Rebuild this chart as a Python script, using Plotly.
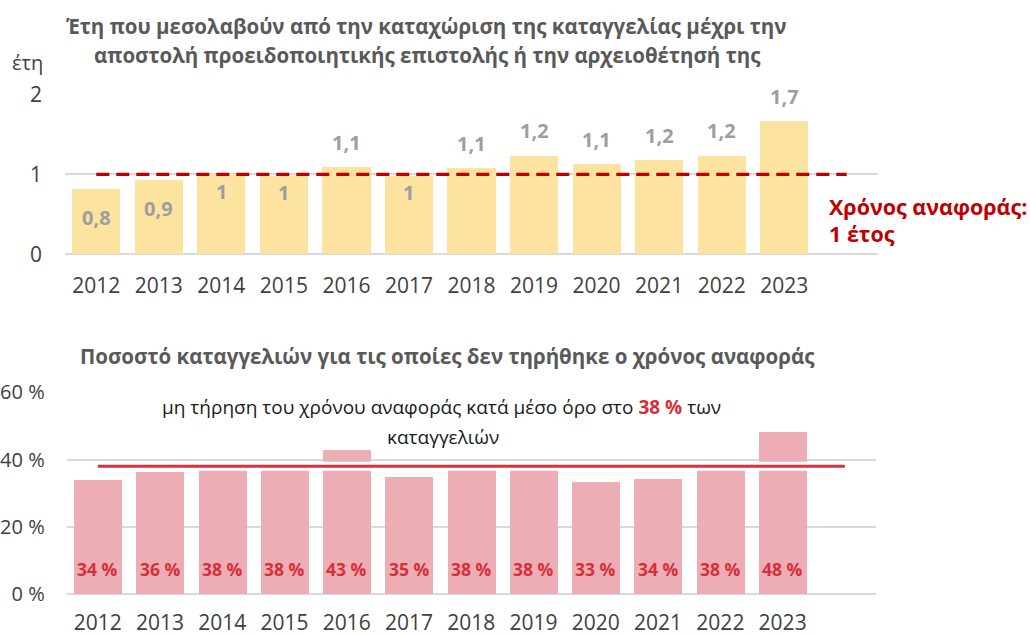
import plotly.graph_objects as go

# ---------------- data ----------------
years = ["2012", "2013", "2014", "2015", "2016", "2017", "2018", "2019", "2020", "2021", "2022", "2023"]
duration_years = [0.81, 0.92, 1.00, 0.98, 1.09, 0.98, 1.07, 1.23, 1.12, 1.17, 1.23, 1.66]
reference_years = 1
share_missed_pct = [33.7, 36.1, 38, 38, 42.6, 34.6, 38, 38, 33.2, 34.2, 38, 48.1]
average_missed_pct = 38
top_ticks = [0, 1, 2]
bottom_ticks = [0, 20, 40, 60]

W, H = 1030, 635
def px(x):
    return x / W
def py(y):
    return 1 - y / H

FONT = "Open Sans"
xs = list(range(len(years)))

fig = go.Figure()

# top bars
fig.add_trace(go.Bar(x=xs, y=duration_years, width=0.77, marker=dict(color="#FCE3A0", line=dict(width=0)),
                     xaxis="x", yaxis="y", showlegend=False))
fig.add_trace(go.Scatter(x=[0, len(years)], y=[reference_years, reference_years], mode="lines",
                         line=dict(color="#C00000", width=3.2, dash="13px,7px"),
                         xaxis="x", yaxis="y", showlegend=False))

# bottom bars
fig.add_trace(go.Bar(x=xs, y=share_missed_pct, width=0.77, marker=dict(color="#EDADB4", line=dict(width=0)),
                     xaxis="x2", yaxis="y2", showlegend=False))
fig.add_trace(go.Scatter(x=[0, len(years)], y=[average_missed_pct] * 2, mode="lines",
                         line=dict(color="white", width=9), xaxis="x2", yaxis="y2", showlegend=False))
fig.add_trace(go.Scatter(x=[0, len(years)], y=[average_missed_pct] * 2, mode="lines",
                         line=dict(color="#D9323C", width=3), xaxis="x2", yaxis="y2", showlegend=False))

annotations = []

def fmt_dec(v):
    s = f"{v:.1f}".replace(".", ",")
    if s.endswith(",0"):
        s = s[:-2]
    return s

for i, v in enumerate(duration_years):
    if v < 1.05:
        shift = -28 if v < 0.95 else -17
    else:
        shift = 25
    annotations.append(dict(x=i, y=v, xref="x", yref="y", text=f"<b>{fmt_dec(v)}</b>", showarrow=False,
                            yshift=shift, xanchor="center", yanchor="middle",
                            font=dict(family=FONT, size=20, color="#9E9E9E")))

for i, v in enumerate(share_missed_pct):
    annotations.append(dict(x=i, y=0, xref="x2", yref="y2", text=f"<b>{round(v)} %</b>", showarrow=False,
                            yshift=25, xanchor="center", yanchor="middle",
                            font=dict(family=FONT, size=17.5, color="#D62F3A")))

title_font = dict(family=FONT, size=20.5, color="#595959")

def note(x, y, text, font, xanchor="center"):
    return dict(x=px(x), y=py(y), xref="paper", yref="paper", showarrow=False, text=text, font=font,
                xanchor=xanchor, yanchor="middle")

red_font = dict(family=FONT, size=21.5, color="#C00000")
body_font = dict(family=FONT, size=19, color="#1A1A1A")
annotations += [
    note(426, 26.5, "<b>Έτη που μεσολαβούν από την καταχώριση της καταγγελίας μέχρι την</b>", title_font),
    note(427, 55, "<b>αποστολή προειδοποιητικής επιστολής ή την αρχειοθέτησή της</b>", title_font),
    note(10, 62, "έτη", dict(family=FONT, size=20, color="#404040"), xanchor="left"),
    note(827, 206.5, "<b>Χρόνος αναφοράς:</b>", red_font, xanchor="left"),
    note(827, 234, "<b>1 έτος</b>", red_font, xanchor="left"),
    note(447, 356, "<b>Ποσοστό καταγγελιών για τις οποίες δεν τηρήθηκε ο χρόνος αναφοράς</b>", title_font),
    note(441, 407, "μη τήρηση του χρόνου αναφοράς κατά μέσο όρο στο <b><span style='color:#D62F3A'>38 %</span></b> των",
         body_font),
    note(443, 436.5, "καταγγελιών", body_font),
]

grid = "#D9D9D9"
tickfont = dict(family=FONT, size=21, color="#404040")
common = dict(automargin=False, showline=False, ticks="")

fig.update_layout(
    width=W, height=H, margin=dict(l=0, r=0, t=0, b=0, autoexpand=False),
    paper_bgcolor="white", plot_bgcolor="white",
    bargap=0, showlegend=False, annotations=annotations,
    xaxis=dict(domain=[px(65), px(878)], range=[-0.5, 12.5], tickvals=xs, ticktext=years, tickfont=tickfont,
               showgrid=False, zeroline=False, ticklabelstandoff=17, anchor="y", **common),
    yaxis=dict(domain=[py(254.3), py(94.3)], range=[0, 2], tickvals=top_ticks, ticktext=[str(t) for t in top_ticks],
               tickfont=tickfont,
               showgrid=True, gridcolor=grid, gridwidth=2, zeroline=True, zerolinecolor=grid, zerolinewidth=2,
               ticklabelstandoff=22, anchor="x", **common),
    xaxis2=dict(domain=[px(66.7), px(876)], range=[-0.5, 12.5], tickvals=xs, ticktext=years, tickfont=tickfont,
                showgrid=False, zeroline=False, ticklabelstandoff=14, anchor="y2", **common),
    yaxis2=dict(domain=[py(594), py(392.3)], range=[0, 60], tickvals=bottom_ticks,
                ticktext=[f"{t} %" for t in bottom_ticks],
                tickfont=dict(family=FONT, size=20, color="#404040"),
                showgrid=True, gridcolor=grid, gridwidth=2, zeroline=True, zerolinecolor=grid, zerolinewidth=2,
                ticklabelstandoff=21, anchor="x2", **common),
)

fig.write_html("out.html", config={"displayModeBar": False},
               post_script="document.body.style.margin='0';document.body.style.overflow='hidden';")
